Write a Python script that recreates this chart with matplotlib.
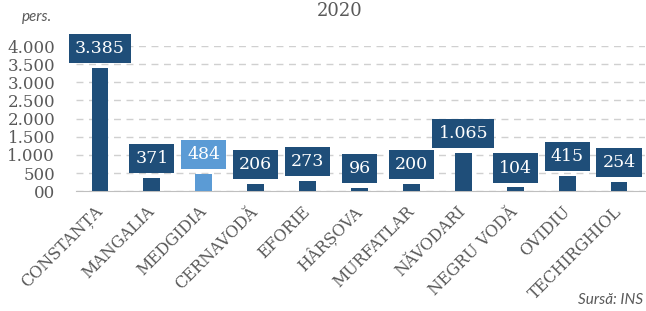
import matplotlib.pyplot as plt

orase = ['CONSTANȚA', 'MANGALIA', 'MEDGIDIA', 'CERNAVODĂ', 'EFORIE', 'HÂRȘOVA',
         'MURFATLAR', 'NĂVODARI', 'NEGRU VODĂ', 'OVIDIU', 'TECHIRGHIOL']
valori = [3385, 371, 484, 206, 273, 96, 200, 1065, 104, 415, 254]
etichete = ['3.385', '371', '484', '206', '273', '96', '200', '1.065', '104', '415', '254']
yticks = [0, 500, 1000, 1500, 2000, 2500, 3000, 3500, 4000]
ylabels = ['00', '500', '1.000', '1.500', '2.000', '2.500', '3.000', '3.500', '4.000']

inchis = '#1F4E79'
deschis = '#5B9BD5'
culori = [deschis if o == 'MEDGIDIA' else inchis for o in orase]
gri = '#595959'

plt.rcParams['font.family'] = ['DejaVu Serif']

fig = plt.figure(figsize=(6.46, 3.11), dpi=100)
ax = fig.add_axes([0.1176, 0.385, 0.881, 0.467])

x = range(len(orase))
ax.bar(x, valori, width=0.32, color=culori, zorder=3)

for i, v in enumerate(valori):
    ax.annotate(etichete[i], (i, v), xytext=(0, 14), textcoords='offset points',
                ha='center', va='center', color='white', fontsize=12.5,
                bbox=dict(boxstyle='square,pad=0.35', fc=culori[i], ec='none'),
                zorder=5)

ax.set_ylim(0, 4000)
ax.set_xlim(-0.46, 10.5)
ax.set_yticks(yticks)
ax.set_yticklabels(ylabels, fontsize=12, color=gri)
ax.set_xticks(list(x))
ax.set_xticklabels(orase, rotation=45, ha='right', va='center',
                   rotation_mode='anchor', fontsize=11.5, color=gri)
ax.tick_params(length=0)
ax.tick_params(axis='y', pad=15)
ax.tick_params(axis='x', pad=13)
ax.yaxis.grid(True, linestyle=(0, (5, 4)), color='#D0D0D0', linewidth=1, zorder=0)
for s in ['top', 'right', 'left']:
    ax.spines[s].set_visible(False)
ax.spines['bottom'].set_color('#BFBFBF')

fig.text(0.526, 0.965, '2020', ha='center', va='center', fontsize=13, color=gri)
fig.text(0.034, 0.945, 'pers.', ha='left', va='center', fontsize=11,
         style='italic', color=gri, family='Lato')
fig.text(0.995, 0.035, 'Sursă: INS', ha='right', va='center', fontsize=11,
         style='italic', color=gri, family='Lato')

fig.savefig('out.png', dpi=100)
